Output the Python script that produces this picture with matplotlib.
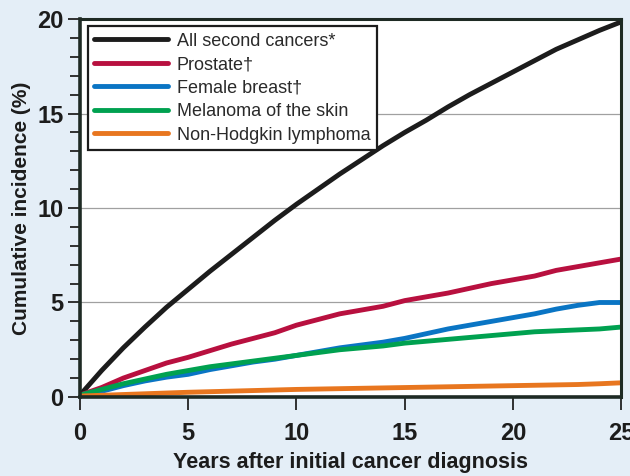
import matplotlib
matplotlib.use("Agg")
import matplotlib.pyplot as plt
from matplotlib.ticker import MultipleLocator

# data
years = list(range(26))
all_second = [0.1, 1.4, 2.6, 3.7, 4.75, 5.7, 6.65, 7.55, 8.45, 9.35, 10.2, 11.0, 11.8,
              12.55, 13.3, 14.0, 14.65, 15.35, 16.0, 16.6, 17.2, 17.8, 18.4, 18.9, 19.4, 19.85]
prostate = [0.1, 0.5, 1.0, 1.4, 1.8, 2.1, 2.45, 2.8, 3.1, 3.4, 3.8, 4.1, 4.4,
            4.6, 4.8, 5.1, 5.3, 5.5, 5.75, 6.0, 6.2, 6.4, 6.7, 6.9, 7.1, 7.3]
breast = [0.05, 0.3, 0.6, 0.85, 1.05, 1.2, 1.45, 1.65, 1.85, 2.0, 2.2, 2.4, 2.6,
          2.75, 2.9, 3.1, 3.35, 3.6, 3.8, 4.0, 4.2, 4.4, 4.65, 4.85, 5.0, 5.0]
melanoma = [0.1, 0.4, 0.7, 0.95, 1.2, 1.4, 1.6, 1.75, 1.9, 2.05, 2.2, 2.35, 2.5,
            2.6, 2.7, 2.85, 2.95, 3.05, 3.15, 3.25, 3.35, 3.45, 3.5, 3.55, 3.6, 3.7]
nhl = [0.05, 0.09, 0.13, 0.17, 0.21, 0.25, 0.28, 0.31, 0.34, 0.37, 0.4, 0.42, 0.44,
       0.46, 0.48, 0.5, 0.52, 0.54, 0.56, 0.58, 0.6, 0.62, 0.64, 0.66, 0.7, 0.75]

labels = ["All second cancers*", "Prostate\u2020", "Female breast\u2020",
          "Melanoma of the skin", "Non-Hodgkin lymphoma"]
series = [all_second, prostate, breast, melanoma, nhl]
colors = ["#1c1c1c", "#b8103f", "#0a75c4", "#00a150", "#e8761f"]

plt.rcParams['font.family'] = ['Liberation Sans', 'DejaVu Sans']

fig = plt.figure(figsize=(6.3, 4.76), dpi=100, facecolor="#e4eef7")
ax = fig.add_axes([0.127, 0.166, 0.859, 0.794])
ax.set_facecolor("white")

for ys, c, lab in zip(series, colors, labels):
    ax.plot(years, ys, color=c, lw=3.5, label=lab, solid_capstyle="round")

ax.set_xlim(0, 25)
ax.set_ylim(0, 20)
ax.xaxis.set_major_locator(MultipleLocator(5))
ax.yaxis.set_major_locator(MultipleLocator(5))
ax.yaxis.set_minor_locator(MultipleLocator(1))

for y in [5, 10, 15]:
    ax.axhline(y, color="#a0a0a0", lw=0.9, zorder=0)

for s in ax.spines.values():
    s.set_linewidth(2.2)
    s.set_color("#1e2a24")
ax.spines['left'].set_linewidth(2.6)
ax.spines['bottom'].set_linewidth(2.6)

ax.tick_params(axis="both", which="major", length=9, width=1.3, color="#222222",
               labelsize=17, pad=3)
ax.tick_params(axis="y", which="minor", length=7, width=1.3, color="#222222")
ax.tick_params(axis="x", pad=9)
for t in ax.get_xticklabels() + ax.get_yticklabels():
    t.set_fontweight("bold")
    t.set_color("#1c1c1c")

ax.set_xlabel("Years after initial cancer diagnosis", fontsize=15.5, fontweight="bold",
              color="#1c1c1c", labelpad=5)
ax.set_ylabel("Cumulative incidence (%)", fontsize=15, fontweight="bold",
              color="#1c1c1c", labelpad=4)

leg = ax.legend(loc="upper left", bbox_to_anchor=(0.015, 0.981), borderaxespad=0,
                fontsize=13, handlelength=4.1, handletextpad=0.45, labelspacing=0.36,
                borderpad=0.35, fancybox=False, framealpha=1)
leg.get_frame().set_edgecolor("#1c1c1c")
leg.get_frame().set_linewidth(1.6)
for t in leg.get_texts():
    t.set_color("#2a2a2a")

fig.savefig("out.png", dpi=100, facecolor=fig.get_facecolor())
